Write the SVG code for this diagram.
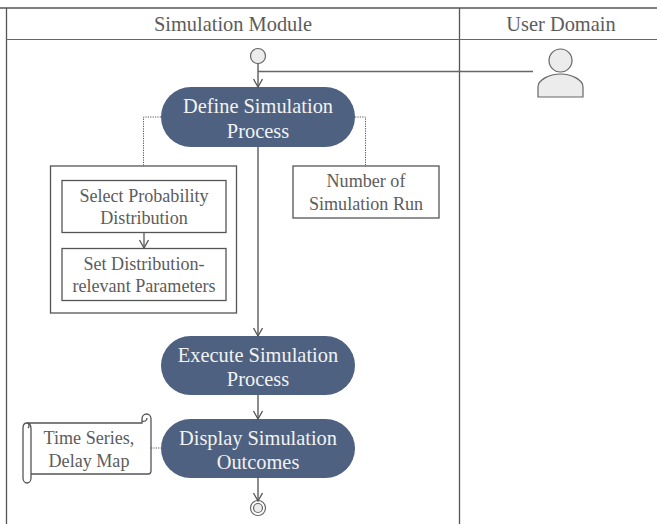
<svg xmlns="http://www.w3.org/2000/svg" width="657" height="524" viewBox="0 0 657 524">
<style>
text{font-family:"Liberation Serif","Times New Roman",serif;text-anchor:middle;fill:#5c5c5c}
.h{font-size:20.400px}
.w{fill:#f2f2f2;font-size:20.400px}
.s{font-size:18.100px}
.l{fill:none;stroke:#555;stroke-width:1.3}
.c{fill:none;stroke:#666;stroke-width:1.5}
.d{fill:none;stroke:#555;stroke-width:1;stroke-dasharray:1.2 1.2}
.b{fill:#fff;stroke:#555;stroke-width:1.3}
.n{fill:#4f6180}
.g{fill:#ececec;stroke:#666;stroke-width:1.2}
</style>
<defs><marker id="a" markerWidth="12" markerHeight="12" refX="9" refY="5" orient="auto" markerUnits="userSpaceOnUse"><path d="M1 0.5L9 5L1 9.5" fill="none" stroke="#555" stroke-width="1.3"/></marker></defs>
<g id="swimlanes">
<path class="l" d="M0 8H657M6.500 8V524M459.500 8V524"/>
<path d="M6 39.500H657" fill="none" stroke="#666" stroke-width="1.2"/>
<text class="h" x="233" y="31">Simulation Module</text>
<text class="h" x="561" y="31">User Domain</text>
</g>
<g id="start"><circle class="g" cx="258" cy="56" r="7.500"/></g>
<g id="user"><circle class="g" cx="560.500" cy="60.500" r="11.500"/><path class="g" d="M538 97V87C538 80 549 74 560.500 74S583 80 583 87V97Z"/></g>
<g id="define"><rect class="n" x="161" y="87" width="194" height="60" rx="30"/><text class="w" x="258" y="113">Define Simulation</text><text class="w" x="258" y="137.500">Process</text></g>
<g id="container"><rect class="b" x="50.500" y="166" width="186" height="147"/></g>
<g id="select"><rect class="b" x="62" y="180.500" width="164" height="52"/><text class="s" x="144" y="202">Select Probability</text><text class="s" x="144" y="224">Distribution</text></g>
<g id="set"><rect class="b" x="62" y="248.500" width="164" height="52"/><text class="s" x="144" y="270">Set Distribution-</text><text class="s" x="144" y="292">relevant Parameters</text></g>
<g id="runs"><rect class="b" x="293" y="166" width="146" height="52"/><text class="s" x="366" y="187">Number of</text><text class="s" x="366" y="209.500">Simulation Run</text></g>
<g id="execute"><rect class="n" x="161" y="336" width="194" height="59" rx="29.500"/><text class="w" x="258" y="361.500">Execute Simulation</text><text class="w" x="258" y="386">Process</text></g>
<g id="display"><rect class="n" x="161" y="419" width="194" height="59" rx="29.500"/><text class="w" x="258" y="444.500">Display Simulation</text><text class="w" x="258" y="468.500">Outcomes</text></g>
<g id="scroll">
<path class="b" d="M31 474V429C31 425 29 423 27 423C24 423 23 425 23 428V478C23 481 25 483 27 483C29 483 31 481 31 478V474H148C150 474 151 473 151 471V419C151 416 149 414 146.500 414C144 414 142 416 142 419V423H27"/>
<path class="l" d="M142 421C144 422 147 421 147 418M27 423C29 423 30 426 28 428"/>
<text class="s" x="89" y="444">Time Series,</text><text class="s" x="89" y="467">Delay Map</text>
</g>
<g id="end"><circle cx="258" cy="508" r="7.500" fill="#fff" stroke="#666" stroke-width="1.2"/><circle class="g" cx="258" cy="508" r="4.500"/></g>
<g id="connectors">
<path class="c" d="M258 63V87" marker-end="url(#a)"/>
<path class="c" d="M258 71.500H533"/>
<path class="c" d="M258 147V336" marker-end="url(#a)"/>
<path class="c" d="M258 395V419" marker-end="url(#a)"/>
<path class="c" d="M258 478V501" marker-end="url(#a)"/>
<path class="l" d="M144 233V248" marker-end="url(#a)"/>
<path class="d" d="M161 117H143.500V166"/>
<path class="d" d="M355 117H365.500V166"/>
<path class="d" d="M151 448H161"/>
</g>
</svg>
